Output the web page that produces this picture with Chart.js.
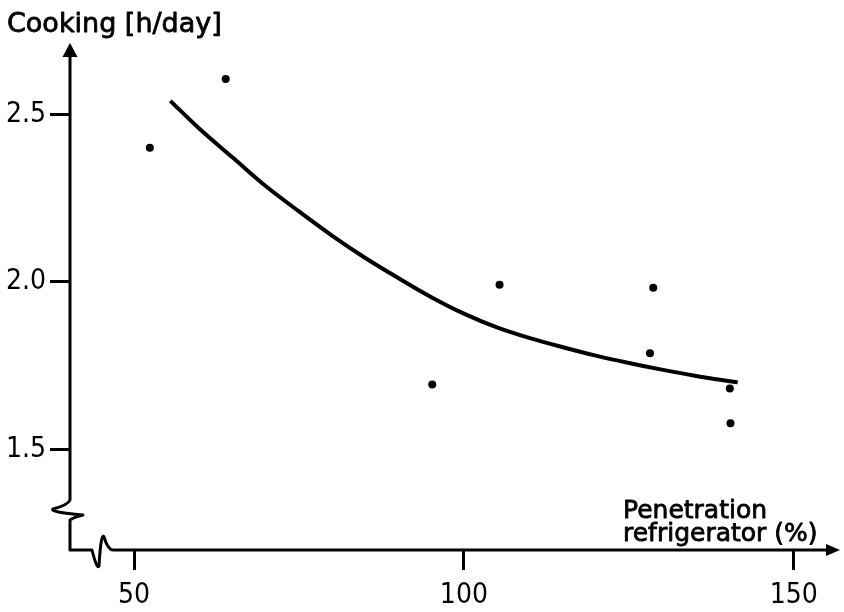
<!DOCTYPE html>
<html>
<head>
<meta charset="utf-8">
<script src="https://cdn.jsdelivr.net/npm/chart.js@4"></script>
<style>
    body { margin: 0; background: #fff; }
    canvas { display: block; }
</style>
</head>
<body>
<canvas id="cooking-chart" width="844" height="612"></canvas>
<script>
// measured households
const pointX = [52.4, 63.9, 95.2, 105.4, 128.7, 128.2, 140.3, 140.4];
const pointY = [2.40, 2.605, 1.694, 1.991, 1.982, 1.787, 1.682, 1.578];

const curveX = [55.5, 60, 65, 70, 75, 80, 85, 90, 95, 100, 105, 110, 115, 120, 125, 130, 135, 141.5];
const curveY = [2.54, 2.455, 2.37, 2.285, 2.21, 2.138, 2.072, 2.012, 1.955, 1.905, 1.864, 1.832, 1.805, 1.78, 1.758, 1.738, 1.72, 1.70];

const xTicks = [50, 100, 150];
const yTicks = [1.5, 2.0, 2.5];

const yTitle = "Cooking [h/day]";
const xTitle = ["Penetration", "refrigerator (%)"];

const TITLE_FONT = "'DejaVu Sans', sans-serif";
const TICK_FONT = "'DejaVu Sans Condensed', 'DejaVu Sans', sans-serif";
Chart.defaults.color = "#000";
Chart.defaults.font.family = TICK_FONT;

// slightly heavier text, like the lettering stencil
function heavyText(ctx, text, x, y) {
    ctx.fillText(text, x, y);
    ctx.strokeText(text, x, y);
}

// hand-drawn style axes: arrows and the break squiggles near the origin
const brokenAxes = {
    id: "brokenAxes",
    afterDraw(chart) {
        const { ctx, chartArea } = chart;
        const L = chartArea.left, B = chartArea.bottom;
        const T = chartArea.top, R = chartArea.right;

        ctx.save();
        ctx.strokeStyle = "#000";
        ctx.fillStyle = "#000";
        ctx.lineWidth = 3;
        ctx.lineJoin = "round";
        ctx.lineCap = "round";

        // y axis with break
        ctx.beginPath();
        ctx.moveTo(L, T + 10);
        ctx.lineTo(L, B - 50);
        ctx.quadraticCurveTo(L - 2, B - 45, L - 17, B - 41);
        ctx.quadraticCurveTo(L - 21, B - 38, L + 13, B - 35);
        ctx.quadraticCurveTo(L + 2, B - 32, L, B - 30);
        ctx.lineTo(L, B);
        // x axis with break
        ctx.lineTo(L + 22, B);
        ctx.quadraticCurveTo(L + 27, B + 20, L + 29, B + 16);
        ctx.quadraticCurveTo(L + 31, B - 18, L + 34, B - 13);
        ctx.quadraticCurveTo(L + 38, B, L + 43, B);
        ctx.lineTo(R - 10, B);
        ctx.stroke();

        // arrow heads
        ctx.beginPath();
        ctx.moveTo(L, T);
        ctx.lineTo(L - 7.5, T + 14);
        ctx.lineTo(L + 7.5, T + 14);
        ctx.closePath();
        ctx.fill();

        ctx.beginPath();
        ctx.moveTo(R, B);
        ctx.lineTo(R - 14, B - 6);
        ctx.lineTo(R - 14, B + 6);
        ctx.closePath();
        ctx.fill();

        // axis titles
        ctx.textAlign = "left";
        ctx.textBaseline = "alphabetic";
        ctx.lineWidth = 0.8;
        ctx.font = "27px " + TITLE_FONT;
        heavyText(ctx, yTitle, 7, 32);

        ctx.font = "25px " + TITLE_FONT;
        heavyText(ctx, xTitle[0], R - 217, B - 32);
        heavyText(ctx, xTitle[1], R - 217, B - 9);
        ctx.restore();
    }
};

const ctx = document.getElementById("cooking-chart").getContext("2d");
new Chart(ctx, {
    type: "scatter",
    data: {
        datasets: [
            {
                data: curveX.map((x, i) => ({ x: x, y: curveY[i] })),
                showLine: true,
                borderColor: "#000",
                borderWidth: 4,
                pointRadius: 0,
                cubicInterpolationMode: "monotone"
            },
            {
                data: pointX.map((x, i) => ({ x: x, y: pointY[i] })),
                backgroundColor: "#000",
                borderWidth: 0,
                pointRadius: 4
            }
        ]
    },
    options: {
        responsive: false,
        animation: false,
        layout: { padding: { top: 43, right: 4, bottom: 0, left: 0 } },
        plugins: {
            legend: { display: false },
            tooltip: { enabled: false }
        },
        scales: {
            x: {
                type: "linear",
                min: 40.3,
                max: 157,
                afterFit: (scale) => { scale.height = 62; },
                afterBuildTicks: (scale) => { scale.ticks = xTicks.map(v => ({ value: v })); },
                border: { display: false },
                grid: {
                    drawOnChartArea: false,
                    tickLength: 20,
                    tickWidth: 3,
                    tickColor: "#000"
                },
                ticks: {
                    padding: 9,
                    maxRotation: 0,
                    font: { size: 28 }
                }
            },
            y: {
                type: "linear",
                min: 1.2,
                max: 2.7125,
                afterFit: (scale) => { scale.width = 70; },
                afterBuildTicks: (scale) => { scale.ticks = yTicks.map(v => ({ value: v })); },
                border: { display: false },
                grid: {
                    drawOnChartArea: false,
                    tickLength: 20,
                    tickWidth: 3,
                    tickColor: "#000"
                },
                ticks: {
                    padding: 4,
                    font: { size: 28 },
                    callback: (v) => v.toFixed(1)
                }
            }
        }
    },
    plugins: [brokenAxes]
});
</script>
</body>
</html>
